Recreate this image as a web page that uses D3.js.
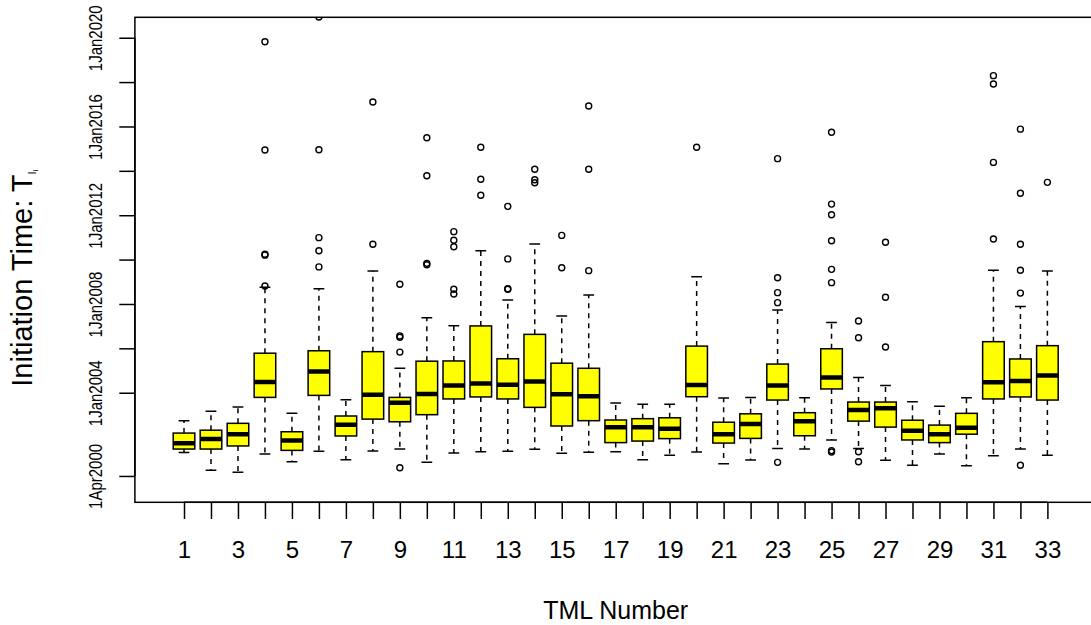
<!DOCTYPE html>
<html>
<head>
<meta charset="utf-8">
<script src="https://cdn.jsdelivr.net/npm/d3@7"></script>
<style>
  html, body { margin: 0; padding: 0; background: #ffffff; }
  svg { display: block; }
  text { font-family: "Liberation Sans", Arial, Helvetica, sans-serif; fill: #000; }
</style>
</head>
<body>
<svg id="chart" width="1091" height="625"></svg>
<script>
// TML numbers (one box per TML)
const tml = [1,2,3,4,5,6,7,8,9,10,11,12,13,14,15,16,17,18,19,20,21,22,23,24,25,26,27,28,29,30,31,32,33];

// Box-plot statistics, in decimal years
const whiskerLow = [2001.30,2000.50,2000.41,2001.24,2000.89,2001.36,2000.98,2001.37,2001.46,2000.86,2001.28,
                    2001.34,2001.36,2001.45,2001.27,2001.31,2001.34,2000.98,2001.18,2001.33,2000.80,2000.97,
                    2001.48,2001.46,2001.87,2001.48,2000.95,2000.73,2001.24,2000.71,2001.16,2001.46,2001.18];
const quart1     = [2001.46,2001.46,2001.60,2003.79,2001.40,2003.88,2002.05,2002.81,2002.69,2003.01,2003.72,
                    2003.81,2003.72,2003.34,2002.50,2002.74,2001.75,2001.82,2001.93,2003.82,2001.73,2001.94,
                    2003.67,2002.06,2004.17,2002.72,2002.45,2001.87,2001.75,2002.13,2003.72,2003.81,2003.67];
const medians    = [2001.72,2001.91,2002.13,2004.48,2001.84,2004.95,2002.56,2003.91,2003.55,2003.94,2004.32,
                    2004.42,2004.36,2004.50,2003.93,2003.84,2002.44,2002.44,2002.38,2004.35,2002.13,2002.59,
                    2004.32,2002.71,2004.68,2003.22,2003.30,2002.29,2002.13,2002.42,2004.47,2004.53,2004.77];
const quart3     = [2002.18,2002.31,2002.62,2005.78,2002.24,2005.89,2002.95,2005.85,2003.79,2005.42,2005.43,
                    2007.01,2005.53,2006.63,2005.33,2005.10,2002.77,2002.83,2002.87,2006.10,2002.67,2003.05,
                    2005.29,2003.10,2005.98,2003.58,2003.58,2002.76,2002.54,2003.07,2006.30,2005.52,2006.12];
const whiskerHigh= [2002.74,2003.16,2003.36,2008.75,2003.07,2008.69,2003.68,2009.49,2005.10,2007.38,2007.02,
                    2010.40,2008.18,2010.70,2007.46,2008.40,2003.54,2003.48,2003.48,2009.23,2003.76,2003.79,
                    2007.73,2003.77,2007.17,2004.69,2004.32,2003.59,2003.39,2003.77,2009.52,2007.89,2009.49];
const outliers = [
  [], [], [],
  [2019.82, 2014.94, 2010.24, 2010.20, 2008.81],
  [],
  [2020.93, 2014.95, 2010.99, 2010.40, 2009.67],
  [],
  [2017.10, 2010.69],
  [2008.89, 2006.56, 2006.50, 2005.83, 2000.62],
  [2015.49, 2013.78, 2009.83, 2009.77],
  [2011.26, 2010.87, 2010.58, 2008.66, 2008.45],
  [2015.06, 2013.62, 2012.90],
  [2012.40, 2010.03, 2008.69, 2008.66],
  [2014.07, 2013.60, 2013.46],
  [2011.09, 2009.63],
  [2016.92, 2014.07, 2009.50],
  [], [], [],
  [2015.06],
  [], [],
  [2014.55, 2009.18, 2008.51, 2008.06, 2000.86],
  [],
  [2015.74, 2012.50, 2012.02, 2010.85, 2009.56, 2008.96, 2001.39, 2001.33],
  [2007.23, 2006.48, 2001.34, 2000.89],
  [2010.78, 2008.30, 2006.06],
  [], [], [],
  [2018.29, 2017.91, 2014.38, 2010.93],
  [2015.88, 2012.99, 2010.69, 2009.52, 2008.49, 2000.73],
  [2013.48]
];

// Axis ticks
const yTickDates  = ["2000-04-01","2004-01-01","2006-01-01","2008-01-01","2010-01-01","2012-01-01",
                     "2014-01-01","2016-01-01","2018-01-01","2020-01-01"];
const yTickLabels = ["1Apr2000","1Jan2004","","1Jan2008","","1Jan2012","","1Jan2016","","1Jan2020"];
const xTickLabels = ["1","","3","","5","","7","","9","","11","","13","","15","","17","","19","","21","",
                     "23","","25","","27","","29","","31","","33"];
const yRangeYears = [1999.061, 2020.919];

// decimal year -> Date (UTC)
function yearToDate(v) {
  const y = Math.floor(v);
  const a = Date.UTC(y, 0, 1), b = Date.UTC(y + 1, 0, 1);
  return new Date(a + (v - y) * (b - a));
}

const svg = d3.select("#chart");
const plot = { left: 134.9, right: 1096.5, top: 17.3, bottom: 502.3 };
const n = tml.length;
const pad = 0.04 * n;

const x = d3.scaleLinear()
  .domain([0.5 - pad, n + 0.5 + pad])
  .range([plot.left, plot.right]);
const y = d3.scaleUtc()
  .domain(yRangeYears.map(yearToDate))
  .range([plot.bottom, plot.top]);

const boxW = x(1.8) - x(1);          // boxwex 0.8
const capW = boxW * 0.5;             // staplewex 0.5
const lw = 1.5;

svg.append("rect").attr("width", 1091).attr("height", 625).attr("fill", "#fff");

svg.append("defs").append("clipPath").attr("id", "plotClip")
  .append("rect")
  .attr("x", plot.left).attr("y", plot.top)
  .attr("width", plot.right - plot.left).attr("height", plot.bottom - plot.top);

const stats = tml.map((t, i) => ({
  t, lo: whiskerLow[i], q1: quart1[i], med: medians[i], q3: quart3[i], hi: whiskerHigh[i], out: outliers[i]
}));

const g = svg.append("g").attr("clip-path", "url(#plotClip)");
const box = g.selectAll("g.box").data(stats).join("g").attr("class", "box");

// dashed whiskers, drawn outward from the box
box.append("line")
  .attr("x1", d => x(d.t)).attr("x2", d => x(d.t))
  .attr("y1", d => y(yearToDate(d.q1))).attr("y2", d => y(yearToDate(d.lo)))
  .attr("stroke", "#000").attr("stroke-width", lw).attr("stroke-dasharray", "5,5");
box.append("line")
  .attr("x1", d => x(d.t)).attr("x2", d => x(d.t))
  .attr("y1", d => y(yearToDate(d.q3))).attr("y2", d => y(yearToDate(d.hi)))
  .attr("stroke", "#000").attr("stroke-width", lw).attr("stroke-dasharray", "5,5");

// staples
["lo", "hi"].forEach(k => {
  box.append("line")
    .attr("x1", d => x(d.t) - capW / 2).attr("x2", d => x(d.t) + capW / 2)
    .attr("y1", d => y(yearToDate(d[k]))).attr("y2", d => y(yearToDate(d[k])))
    .attr("stroke", "#000").attr("stroke-width", lw);
});

// boxes
box.append("rect")
  .attr("x", d => x(d.t) - boxW / 2)
  .attr("width", boxW)
  .attr("y", d => y(yearToDate(d.q3)))
  .attr("height", d => y(yearToDate(d.q1)) - y(yearToDate(d.q3)))
  .attr("fill", "#ffff00").attr("stroke", "#000").attr("stroke-width", lw);

// medians
box.append("line")
  .attr("x1", d => x(d.t) - boxW / 2).attr("x2", d => x(d.t) + boxW / 2)
  .attr("y1", d => y(yearToDate(d.med))).attr("y2", d => y(yearToDate(d.med)))
  .attr("stroke", "#000").attr("stroke-width", 4.5);

// outliers
box.selectAll("circle")
  .data(d => d.out.map(v => ({ t: d.t, v })))
  .join("circle")
  .attr("cx", d => x(d.t)).attr("cy", d => y(yearToDate(d.v)))
  .attr("r", 3).attr("fill", "none").attr("stroke", "#000").attr("stroke-width", 1.4);

// plot frame
svg.append("rect")
  .attr("x", plot.left).attr("y", plot.top)
  .attr("width", plot.right - plot.left).attr("height", plot.bottom - plot.top)
  .attr("fill", "none").attr("stroke", "#000").attr("stroke-width", lw);

// x axis
const xAxis = svg.append("g")
  .attr("transform", `translate(0,${plot.bottom})`)
  .call(d3.axisBottom(x).tickValues(tml).tickSize(16.7).tickFormat((d, i) => xTickLabels[i]));
xAxis.select(".domain").remove();
xAxis.selectAll(".tick line").attr("stroke", "#000").attr("stroke-width", lw);
xAxis.selectAll(".tick text")
  .attr("y", 56).attr("dy", 0)
  .style("font-size", "24px").style("font-family", "Liberation Sans, Arial, sans-serif").attr("fill", "#000");
svg.append("line")
  .attr("x1", x(tml[0])).attr("x2", x(tml[n - 1]))
  .attr("y1", plot.bottom).attr("y2", plot.bottom)
  .attr("stroke", "#000").attr("stroke-width", lw);

// y axis
const yTicks = yTickDates.map(s => new Date(s + "T00:00:00Z"));
const yAxis = svg.append("g")
  .attr("transform", `translate(${plot.left},0)`)
  .call(d3.axisLeft(y).tickValues(yTicks).tickSize(15.6).tickFormat((d, i) => yTickLabels[i]));
yAxis.select(".domain").remove();
yAxis.selectAll(".tick line").attr("stroke", "#000").attr("stroke-width", lw);
yAxis.selectAll(".tick text")
  .attr("x", 0).attr("y", 0).attr("dy", 0)
  .attr("text-anchor", "middle")
  .attr("transform", "translate(-32.9,0) rotate(-90) scale(1,1.25)")
  .style("font-size", "15px").style("font-family", "Liberation Sans, Arial, sans-serif").attr("fill", "#000");
svg.append("line")
  .attr("x1", plot.left).attr("x2", plot.left)
  .attr("y1", y(yTicks[0])).attr("y2", y(yTicks[yTicks.length - 1]))
  .attr("stroke", "#000").attr("stroke-width", lw);

// axis titles
svg.append("text")
  .attr("x", (plot.left + plot.right) / 2).attr("y", 619.3)
  .attr("text-anchor", "middle").style("font-size", "25px")
  .text("TML Number");

const yl = svg.append("text")
  .attr("transform", "translate(31.7,386.7) rotate(-90)")
  .attr("text-anchor", "start").style("font-size", "29px");
yl.append("tspan").text("Initiation Time: T");
yl.append("tspan").attr("dy", 4).style("font-size", "11px").text("I");
yl.append("tspan").attr("dy", 2).style("font-size", "8px").text("i");
</script>
</body>
</html>
